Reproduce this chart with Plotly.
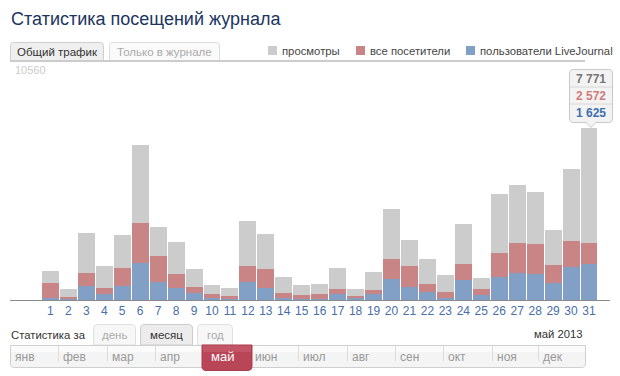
import plotly.graph_objects as go

# ---- data ----
days = list(range(1, 32))
day_labels = [str(d) for d in days]
views = [1308, 496, 3022, 1533, 2931, 6990, 3292, 2616, 1398, 677, 541, 3563, 2977, 1037, 677,
         722, 1443, 496, 1263, 4104, 2706, 1849, 1128, 3428, 992, 4781, 5187, 4871, 3157, 5908, 7771]
visitors = [767, 135, 1218, 541, 1443, 3472, 1984, 1173, 586, 271, 180, 1533, 1398, 316, 225,
            271, 496, 180, 451, 1849, 1533, 722, 361, 1624, 496, 2120, 2571, 2526, 1579, 2661, 2572]
lj_users = [105, 60, 631, 286, 631, 1669, 812, 541, 316, 105, 45, 812, 541, 90, 45,
            45, 286, 105, 286, 947, 586, 361, 105, 902, 225, 1037, 1218, 1173, 767, 1488, 1625]
series_names = ["просмотры", "все посетители", "пользователи LiveJournal"]
y_max = 10560
months = ["янв", "фев", "мар", "апр", "май", "июн", "июл", "авг", "сен", "окт", "ноя", "дек"]
active_month = "май"
period_label = "май 2013"

# ---- styling ----
W, H = 620, 376
ML, MR, MT, MB = 10, 10, 66, 76
PW, PH = W - ML - MR, H - MT - MB
C_GRAY, C_RED, C_BLUE = "#cccccc", "#c98585", "#829fc5"
FONT = "Arial, Liberation Sans, sans-serif"


def px(x):
    return (x - ML) / PW


def py(y):
    return (H - MB - y) / PH


fig = go.Figure()
for vals, col, name in [(views, C_GRAY, series_names[0]),
                        (visitors, C_RED, series_names[1]),
                        (lj_users, C_BLUE, series_names[2])]:
    fig.add_trace(go.Bar(x=days, y=vals, marker=dict(color=col, line=dict(width=0)),
                         width=17 / 18, name=name, showlegend=False, hoverinfo="skip"))

shapes = []
ann = []


def rect(x0, y0, x1, y1, fill, line=None, lw=1):
    shapes.append(dict(type="rect", xref="paper", yref="paper", x0=px(x0), x1=px(x1),
                       y0=py(y0), y1=py(y1), fillcolor=fill,
                       line=dict(color=line or fill, width=lw if line else 0), layer="above"))


def rrect(x0, y0, x1, y1, r, fill, line=None, top=True, bottom=True):
    def P(x, y):
        return f"{px(x):.5f},{py(y):.5f}"
    rt = r if top else 0
    rb = r if bottom else 0
    d = f"M{P(x0 + rt, y0)} L{P(x1 - rt, y0)} Q{P(x1, y0)} {P(x1, y0 + rt)} "
    d += f"L{P(x1, y1 - rb)} Q{P(x1, y1)} {P(x1 - rb, y1)} L{P(x0 + rb, y1)} "
    d += f"Q{P(x0, y1)} {P(x0, y1 - rb)} L{P(x0, y0 + rt)} Q{P(x0, y0)} {P(x0 + rt, y0)} Z"
    shapes.append(dict(type="path", xref="paper", yref="paper", path=d, fillcolor=fill,
                       line=dict(color=line or fill, width=1 if line else 0), layer="above"))


def text(x, y, s, size=12, color="#333", xanchor="left", bold=False):
    ann.append(dict(xref="paper", yref="paper", x=px(x), y=py(y), text=f"<b>{s}</b>" if bold else s,
                    showarrow=False, xanchor=xanchor, yanchor="middle",
                    font=dict(family=FONT, size=size, color=color)))


# title
text(9, 19, "Статистика посещений журнала", size=18, color="#1b355f")

# top tabs
rrect(10.5, 42.5, 103.5, 61, 3, "#efefef", "#cfcfcf", bottom=False)
text(57, 51.5, "Общий трафик", size=11.5, color="#333", xanchor="center")
rrect(109.5, 42.5, 219.5, 61, 3, "#fafafa", "#dddddd", bottom=False)
text(164.5, 51.5, "Только в журнале", size=11.5, color="#aaaaaa", xanchor="center")
# horizontal separator line
shapes.append(dict(type="line", xref="paper", yref="paper", x0=px(10), x1=px(585),
                   y0=py(61), y1=py(61), line=dict(color="#cccccc", width=2), layer="above"))

# legend
for sx, col, name in [(268, C_GRAY, series_names[0]), (356, C_RED, series_names[1]),
                      (466, C_BLUE, series_names[2])]:
    rect(sx, 46, sx + 9, 55, col)
    text(sx + 12, 50.5, name, size=11.3, color="#444")

# y max label
text(13, 70, str(y_max), size=11, color="#cccccc")

# tooltip for last day
last = len(days) - 1
tx0, tx1, ty0, ty1 = 569.5, 612.5, 69.5, 122.5
cx = (tx0 + tx1) / 2
rrect(tx0, ty0, tx1, ty1, 4, "#f3f3f3", "#c8c8c8")
shapes.append(dict(type="path", xref="paper", yref="paper",
                   path=f"M{px(cx - 5)},{py(ty1)} L{px(cx)},{py(ty1 + 5)} L{px(cx + 5)},{py(ty1)} Z",
                   fillcolor="#f3f3f3", line=dict(color="#c8c8c8", width=1), layer="above"))
shapes.append(dict(type="line", xref="paper", yref="paper", x0=px(cx - 4.3), x1=px(cx + 4.3),
                   y0=py(ty1), y1=py(ty1), line=dict(color="#f3f3f3", width=2), layer="above"))
for yy in (87, 104):
    shapes.append(dict(type="line", xref="paper", yref="paper", x0=px(tx0), x1=px(tx1),
                       y0=py(yy), y1=py(yy), line=dict(color="#d8d8d8", width=1), layer="above"))


def fmt(v):
    return f"{v:,}".replace(",", " ")


text(cx, 78.5, fmt(views[last]), size=12, color="#777777", xanchor="center", bold=True)
text(cx, 95.5, fmt(visitors[last]), size=12, color="#d07c7c", xanchor="center", bold=True)
text(cx, 113, fmt(lj_users[last]), size=12, color="#3f6fb0", xanchor="center", bold=True)

# bottom controls
text(9, 334.5, "Статистика за", size=11.3, color="#333")
rrect(93.5, 324.5, 135.5, 345, 4, "#f7f7f7", "#e0e0e0", bottom=False)
text(114.5, 335, "день", size=11.5, color="#aaaaaa", xanchor="center")
rrect(140.5, 324.5, 192.5, 345, 4, "#ececec", "#cccccc", bottom=False)
text(166.5, 335, "месяц", size=11.5, color="#333", xanchor="center")
rrect(197.5, 324.5, 232.5, 345, 4, "#f7f7f7", "#e0e0e0", bottom=False)
text(215, 335, "год", size=11.5, color="#aaaaaa", xanchor="center")
text(585, 333.5, period_label, size=11.3, color="#333", xanchor="right")

# month bar
edges = [10, 58, 107, 155, 202, 250, 298, 347, 395, 443, 492, 538, 585]
rrect(10.5, 345.5, 585.5, 367.5, 4, "#f4f4f4", "#cfcfcf", top=False)
rect(11, 346, 585, 352, "#fbfbfb")
for e in edges[1:-1]:
    shapes.append(dict(type="line", xref="paper", yref="paper", x0=px(e + 0.5), x1=px(e + 0.5),
                       y0=py(346), y1=py(361), line=dict(color="#dddddd", width=1), layer="above"))
for i, m in enumerate(months):
    if m == active_month:
        rrect(edges[i], 345, edges[i + 1] + 2, 370.5, 4, "#b94657", "#a83c4c", top=False)
        rect(edges[i] + 1, 345.5, edges[i + 1] + 1, 352, "#c45566")
        text(edges[i] + 7, 356.5, m, size=13, color="#ffffff")
    else:
        text(edges[i] + 3, 357, m, size=12, color="#999999")

fig.update_layout(
    width=W, height=H, autosize=False,
    margin=dict(l=ML, r=MR, t=MT, b=MB, pad=0),
    paper_bgcolor="white", plot_bgcolor="white",
    barmode="overlay", bargap=0,
    showlegend=False,
    shapes=shapes, annotations=ann,
    font=dict(family=FONT),
    xaxis=dict(range=[-1.25, 32.17], tickmode="array", tickvals=days, ticktext=day_labels,
               showgrid=False, zeroline=False, showline=True, linecolor="#8a8a8a", linewidth=1,
               ticks="", tickfont=dict(family=FONT, size=12, color="#4a6ea8"), fixedrange=True),
    yaxis=dict(range=[0, y_max], visible=False, showgrid=False, zeroline=False, fixedrange=True),
)

fig.write_html("out.html", config=dict(displayModeBar=False, staticPlot=True),
               post_script="document.body.style.margin='0';document.body.style.padding='0';")
